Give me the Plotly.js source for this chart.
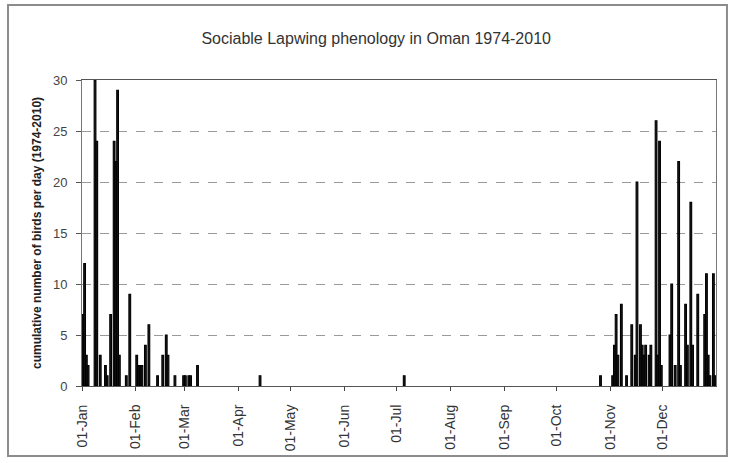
<!DOCTYPE html>
<html>
<head>
<meta charset="utf-8">
<script src="https://cdn.plot.ly/plotly-3.0.1.min.js"></script>
<style>html,body{margin:0;padding:0;background:#fff;}#chart{width:732px;height:463px;}</style>
</head>
<body>
<div id="chart"></div>
<script>
// Days with sightings (reference year 2010, non-leap) and cumulative birds per day
var dates = [
  "2010-01-01","2010-01-02","2010-01-03","2010-01-04","2010-01-08","2010-01-09","2010-01-11",
  "2010-01-14","2010-01-15","2010-01-17","2010-01-19","2010-01-20","2010-01-21","2010-01-22",
  "2010-01-26","2010-01-28","2010-02-01","2010-02-02","2010-02-03","2010-02-04","2010-02-06",
  "2010-02-08","2010-02-13","2010-02-16","2010-02-18","2010-02-19","2010-02-23","2010-02-28",
  "2010-03-01","2010-03-03","2010-03-04","2010-03-08","2010-04-13","2010-07-05","2010-10-26",
  "2010-11-02","2010-11-03","2010-11-04","2010-11-05","2010-11-07","2010-11-10","2010-11-13",
  "2010-11-15","2010-11-16","2010-11-18","2010-11-19","2010-11-20","2010-11-21","2010-11-23",
  "2010-11-24","2010-11-27","2010-11-28","2010-11-29","2010-11-30","2010-12-05","2010-12-06",
  "2010-12-08","2010-12-10","2010-12-11","2010-12-14","2010-12-15","2010-12-17","2010-12-18",
  "2010-12-21","2010-12-25","2010-12-26","2010-12-27","2010-12-28","2010-12-30","2010-12-31"
];
var birds = [
  7,12,3,2,30,24,3,
  2,1,7,24,22,29,3,
  1,9,3,2,2,2,4,
  6,1,3,5,3,1,1,
  1,1,1,2,1,1,1,
  1,4,7,3,8,1,6,
  3,20,6,4,3,4,3,
  4,26,3,24,2,5,10,
  2,22,2,8,4,18,4,
  9,7,11,3,1,11,1
];
var monthStarts = ["2010-01-01","2010-02-01","2010-03-01","2010-04-01","2010-05-01","2010-06-01",
  "2010-07-01","2010-08-01","2010-09-01","2010-10-01","2010-11-01","2010-12-01"];
var monthLabels = ["01-Jan","01-Feb","01-Mar","01-Apr","01-May","01-Jun",
  "01-Jul","01-Aug","01-Sep","01-Oct","01-Nov","01-Dec"];
var titleText = "Sociable Lapwing phenology in Oman 1974-2010";
var yTitle = "cumulative number of birds per day (1974-2010)";

var DAY = 86400000;
var trace = {
  type: "bar",
  x: dates,
  y: birds,
  xperiod: DAY,
  xperiodalignment: "middle",
  width: DAY * 1.0,
  marker: {color: "#1a1a1a", line: {color: "#000", width: 1.1}},
  hoverinfo: "x+y"
};

var FONT = "Liberation Sans, Arial, sans-serif";
var layout = {
  width: 732, height: 463,
  margin: {l: 82, r: 16, t: 80, b: 77, pad: 0},
  paper_bgcolor: "#fff", plot_bgcolor: "#fff",
  showlegend: false,
  bargap: 0,
  title: {text: titleText, font: {family: FONT, size: 16, color: "#333"},
          x: 0.464, xref: "paper", xanchor: "center", y: 0.918, yref: "container", yanchor: "middle"},
  xaxis: {
    type: "date",
    range: ["2010-01-01", "2011-01-01"],
    tickmode: "array",
    tickvals: monthStarts,
    ticktext: monthLabels,
    tickangle: -90,
    ticks: "outside", ticklen: 4, tickcolor: "#444", tickwidth: 1,
    tickfont: {family: FONT, size: 14, color: "#333"},
    ticklabelstandoff: 8,
    showgrid: false,
    showline: true, linecolor: "#555", linewidth: 1, mirror: true,
    zeroline: false, fixedrange: true
  },
  yaxis: {
    range: [0, 30],
    dtick: 5,
    tick0: 0,
    ticks: "outside", ticklen: 5, tickcolor: "#555", tickwidth: 1,
    tickfont: {family: FONT, size: 13, color: "#444"},
    showgrid: true, gridcolor: "#9a9a9a", griddash: "dash", gridwidth: 1,
    showline: true, linecolor: "#777", linewidth: 1, mirror: true,
    zeroline: false, fixedrange: true,
    ticklabelstandoff: 6,
    title: {text: "<b>" + yTitle + "</b>", font: {family: FONT, size: 12, color: "#222"}, standoff: 8}
  },
  shapes: [{
    type: "rect", xref: "paper", yref: "paper",
    x0: -0.1167, x1: 1.0173, y0: -0.229, y1: 1.245,
    line: {color: "#8c8c8c", width: 2}, fillcolor: "rgba(0,0,0,0)", layer: "below"
  }]
};

Plotly.newPlot("chart", [trace], layout, {staticPlot: true, displayModeBar: false});
</script>
</body>
</html>
